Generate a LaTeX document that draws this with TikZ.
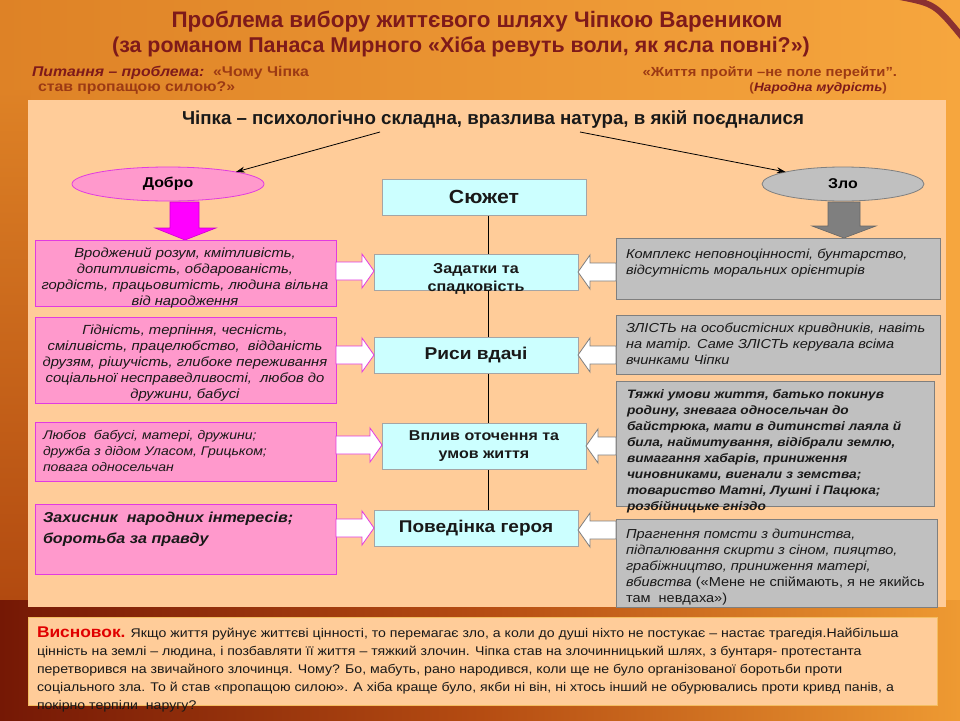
\documentclass[tikz,border=0pt]{standalone}
\usepackage{fontspec}
\setmainfont{Liberation Sans}
\newfontfamily\wide[FakeStretch=1.12]{Liberation Sans}
\usetikzlibrary{shapes.geometric,arrows.meta,calc}
\definecolor{maroon}{HTML}{7E1A1A}
\definecolor{brownq}{HTML}{9C3A14}
\definecolor{panel}{HTML}{FFCC99}
\definecolor{cyanbox}{HTML}{CCFFFF}
\definecolor{pinkbox}{HTML}{FF99CC}
\definecolor{pinkline}{HTML}{E13BE1}
\definecolor{grayfill}{HTML}{C0C0C0}
\definecolor{grayline}{HTML}{7F7F7F}
\definecolor{magarrow}{HTML}{FF00FF}
\definecolor{bgA}{HTML}{DE8226}
\definecolor{bgB}{HTML}{F6A63E}
\definecolor{bgL}{HTML}{B24A10}
\definecolor{bgC}{HTML}{751805}
\definecolor{bgD}{HTML}{EE9A32}
\definecolor{bgE}{HTML}{B54C12}
\definecolor{conclline}{HTML}{F4BE62}
\definecolor{redword}{HTML}{E00000}
\newcommand\BArrow[5]{\draw[#5] ({#1},{#3-9}) -- ({#2-(#4)},{#3-9}) -- ({#2-(#4)},{#3-17}) -- ({#2},{#3}) -- ({#2-(#4)},{#3+17}) -- ({#2-(#4)},{#3+9}) -- ({#1},{#3+9}) -- cycle;}
\begin{document}
\begin{tikzpicture}[x=1pt,y=-1pt,
 every node/.style={inner sep=0pt, outer sep=0pt},
 cyanbx/.style={draw=grayline!70, fill=cyanbox, line width=0.8pt, anchor=north west},
 pinkbx/.style={draw=pinkline, fill=pinkbox, line width=0.8pt, anchor=north west},
 graybx/.style={draw=grayline, fill=grayfill, line width=0.8pt, anchor=north west},
 boxtxt/.style={font=\wide\fontsize{13}{16}\selectfont\itshape, text=black!90},
 midtxt/.style={font=\wide\fontsize{14.4}{18}\selectfont\bfseries, align=center, text=black!90},
 qtxt/.style={font=\wide\fontsize{14.1}{16}\selectfont\bfseries, text=brownq},
 warrL/.style={draw=pinkline, fill=white, line width=0.8pt},
 warrR/.style={draw=grayline, fill=white, line width=0.8pt},
 conn/.style={-{Stealth[length=9pt,width=6pt]}, line width=0.8pt, black},
]
\useasboundingbox (0,0) rectangle (960,720);
% background
\shade[left color=bgA, right color=bgB] (0,0) rectangle (960,720);
\shade[top color=bgA, bottom color=bgL] (0,90) rectangle (30,600);
\shade[left color=bgC, right color=bgD, middle color=bgE] (0,600) rectangle (960,720);
\draw[line width=6pt, maroon!90] (900,-3) .. controls (935,4) .. (963,38);
% titles
\node[font=\bfseries\fontsize{22.4}{25}\selectfont, text=maroon] (title1) at (477,22)
 {Проблема вибору життєвого шляху Чіпкою Вареником};
\node[font=\bfseries\fontsize{21.4}{25}\selectfont, text=maroon] (title2) at (461,47)
 {(за романом Панаса Мирного «Хіба ревуть воли, як ясла повні?»)};
\node[qtxt, anchor=base west] (ql1) at (32,76) {\textcolor{maroon}{\itshape Питання – проблема:}\ \ «Чому Чіпка};
\node[qtxt, anchor=base west] (ql2) at (38,91.5) {став пропащою силою?»};
\node[qtxt, anchor=base east, font=\wide\fontsize{13.2}{16}\selectfont\bfseries] (qr1) at (897,76) {«Життя пройти –не поле перейти”.};
\node[qtxt, anchor=base east, font=\wide\fontsize{12.2}{16}\selectfont\bfseries] (qr2) at (887,91.5) {(\textcolor{maroon}{\itshape Народна мудрість})};
% panel
\node[fill=panel, anchor=north west, minimum width=918pt, minimum height=507pt] (panel) at (28,100) {};
\node[font=\bfseries\fontsize{18.7}{22}\selectfont, text=black!90] (head) at (493,119)
 {Чіпка – психологічно складна, вразлива натура, в якій поєдналися};
% ellipses
\node[ellipse, draw=pinkline, fill=pinkbox, line width=0.8pt, minimum width=192pt, minimum height=34pt,
 font=\wide\fontsize{14.2}{16}\selectfont\bfseries] (dobro) at (168,184) {Добро};
\node[ellipse, draw=grayline, fill=grayfill, line width=0.8pt, minimum width=162pt, minimum height=34pt,
 font=\wide\fontsize{14.2}{16}\selectfont\bfseries] (zlo) at (843,184) {Зло};
\coordinate (hl) at (380,132);
\coordinate (hr) at (580,132);
\draw[conn] (hl) -- (dobro.north east);
\draw[conn] (hr) -- (zlo.north west);
% down arrows
\draw[draw=magarrow!80!black, fill=magarrow, line width=0.6pt] (170,202) -- (199,202) -- (199,228) -- (216,228) -- (185,240) -- (155,228) -- (170,228) -- cycle;
\draw[draw=grayline!80!black, fill=grayline, line width=0.6pt] (828,202) -- (860,202) -- (860,226) -- (876,226) -- (844,238) -- (812,226) -- (828,226) -- cycle;
% spine
\coordinate (vt) at (488,215);
\coordinate (vb) at (488,510);
\draw[line width=0.8pt, black] (vt) -- (vb);
% centre boxes
\node[cyanbx, minimum width=204pt, minimum height=36pt] (sj) at (382,179) {};
\node[font=\wide\fontsize{19}{20}\selectfont\bfseries, text=black!90] (sjt) at (484,197) {Сюжет};
\node[cyanbx, minimum width=204pt, minimum height=36pt] (zd) at (374,254) {};
\node[midtxt] (zdt) at (476,279) {Задатки та\\спадковість};
\node[cyanbx, minimum width=204pt, minimum height=36pt] (rv) at (374,337) {};
\node[font=\wide\fontsize{17.1}{20}\selectfont\bfseries, text=black!90] (rvt) at (476,355) {Риси вдачі};
\node[cyanbx, minimum width=204pt, minimum height=46pt] (vp) at (382,423) {};
\node[midtxt, font=\wide\fontsize{14.3}{18}\selectfont\bfseries] (vpt) at (484,446) {Вплив оточення та\\умов життя};
\node[cyanbx, minimum width=204pt, minimum height=36pt] (pg) at (374,510) {};
\node[font=\wide\fontsize{17}{20}\selectfont\bfseries, text=black!90] (pgt) at (476,528) {Поведінка героя};
% pink boxes
\node[pinkbx, minimum width=301pt, minimum height=66pt] (p1) at (35,240) {};
\node[boxtxt, align=center, font=\wide\fontsize{13.2}{16}\selectfont\itshape] (p1t) at (185,278) {Вроджений розум, кмітливість,\\допитливість, обдарованість,\\гордість, працьовитість, людина вільна\\від народження};
\node[pinkbx, minimum width=301pt, minimum height=86pt] (p2) at (35,317) {};
\node[boxtxt, align=center, font=\wide\fontsize{13.2}{16}\selectfont\itshape] (p2t) at (185,363) {Гідність, терпіння, чесність,\\сміливість, працелюбство,\ \ відданість\\друзям, рішучість, глибоке переживання\\соціальної несправедливості,\ \ любов до\\дружини, бабусі};
\node[pinkbx, minimum width=301pt, minimum height=59pt] (p3) at (35,422) {};
\node[boxtxt, align=left, anchor=north west, font=\wide\fontsize{12.5}{16}\selectfont\itshape] (p3t) at (43,430) {Любов\ \ бабусі, матері, дружини;\\дружба з дідом Уласом, Грицьком;\\повага односельчан};
\node[pinkbx, minimum width=301pt, minimum height=70pt] (p4) at (35,504) {};
\node[boxtxt, align=left, anchor=north west, font=\wide\fontsize{14.4}{21}\selectfont\itshape\bfseries] (p4t) at (43,512) {Захисник\ \ народних інтересів;\\боротьба за правду};
% gray boxes
\node[graybx, minimum width=324pt, minimum height=61pt] (g1) at (616,238) {};
\node[boxtxt, align=left, anchor=north west] (g1t) at (626,249) {Комплекс неповноцінності, бунтарство,\\відсутність моральних орієнтирів};
\node[graybx, minimum width=324pt, minimum height=59pt] (g2) at (616,315) {};
\node[boxtxt, align=left, anchor=north west] (g2t) at (626,323) {ЗЛІСТЬ на особистісних кривдників, навіть\\на матір. Саме ЗЛІСТЬ керувала всіма\\вчинками Чіпки};
\node[graybx, minimum width=318pt, minimum height=125pt] (g3) at (616,381) {};
\node[boxtxt, align=left, anchor=north west, font=\wide\fontsize{12.2}{16}\selectfont\itshape\bfseries] (g3t) at (627,390) {Тяжкі умови життя, батько покинув\\родину, зневага односельчан до\\байстрюка, мати в дитинстві лаяла й\\била, наймитування, відібрали землю,\\вимагання хабарів, приниження\\чиновниками, вигнали з земства;\\товариство Матні, Лушні і Пацюка;\\розбійницьке гніздо};
\node[graybx, minimum width=321pt, minimum height=88pt] (g4) at (616,519) {};
\node[boxtxt, align=left, anchor=north west] (g4t) at (626,529) {Прагнення помсти з дитинства,\\підпалювання скирти з сіном, пияцтво,\\грабіжництво, приниження матері,\\вбивства \textup{(«Мене не спіймають, я не якийсь}\\\textup{там\ \ невдаха»)}};
% white block arrows
\BArrow{336}{374}{271}{12}{warrL}
\BArrow{336}{374}{355}{12}{warrL}
\BArrow{336}{382}{445}{12}{warrL}
\BArrow{336}{374}{528}{12}{warrL}
\BArrow{616}{578}{272}{-12}{warrR}
\BArrow{616}{578}{355}{-12}{warrR}
\BArrow{616}{586}{446}{-12}{warrR}
\BArrow{616}{578}{530}{-12}{warrR}
% conclusion
\node[draw=conclline, fill=panel, line width=0.8pt, anchor=north west, minimum width=909pt, minimum height=88pt] (concl) at (28,617) {};
\node[anchor=north west, align=left, font=\wide\fontsize{12.6}{18}\selectfont, text=black!90] (conclt) at (37,627)
 {\textcolor{redword}{\bfseries\fontsize{15.5}{18}\selectfont Висновок.} Якщо життя руйнує життєві цінності, то перемагає зло, а коли до душі ніхто не постукає – настає трагедія.Найбільша\\
 цінність на землі – людина, і позбавляти її життя – тяжкий злочин. Чіпка став на злочинницький шлях, з бунтаря- протестанта\\
 перетворився на звичайного злочинця. Чому? Бо, мабуть, рано народився, коли ще не було організованої боротьби проти\\
 соціального зла. То й став «пропащою силою». А хіба краще було, якби ні він, ні хтось інший не обурювались проти кривд панів, а\\
 покірно терпіли\ \ наругу?};
\end{tikzpicture}
\end{document}
